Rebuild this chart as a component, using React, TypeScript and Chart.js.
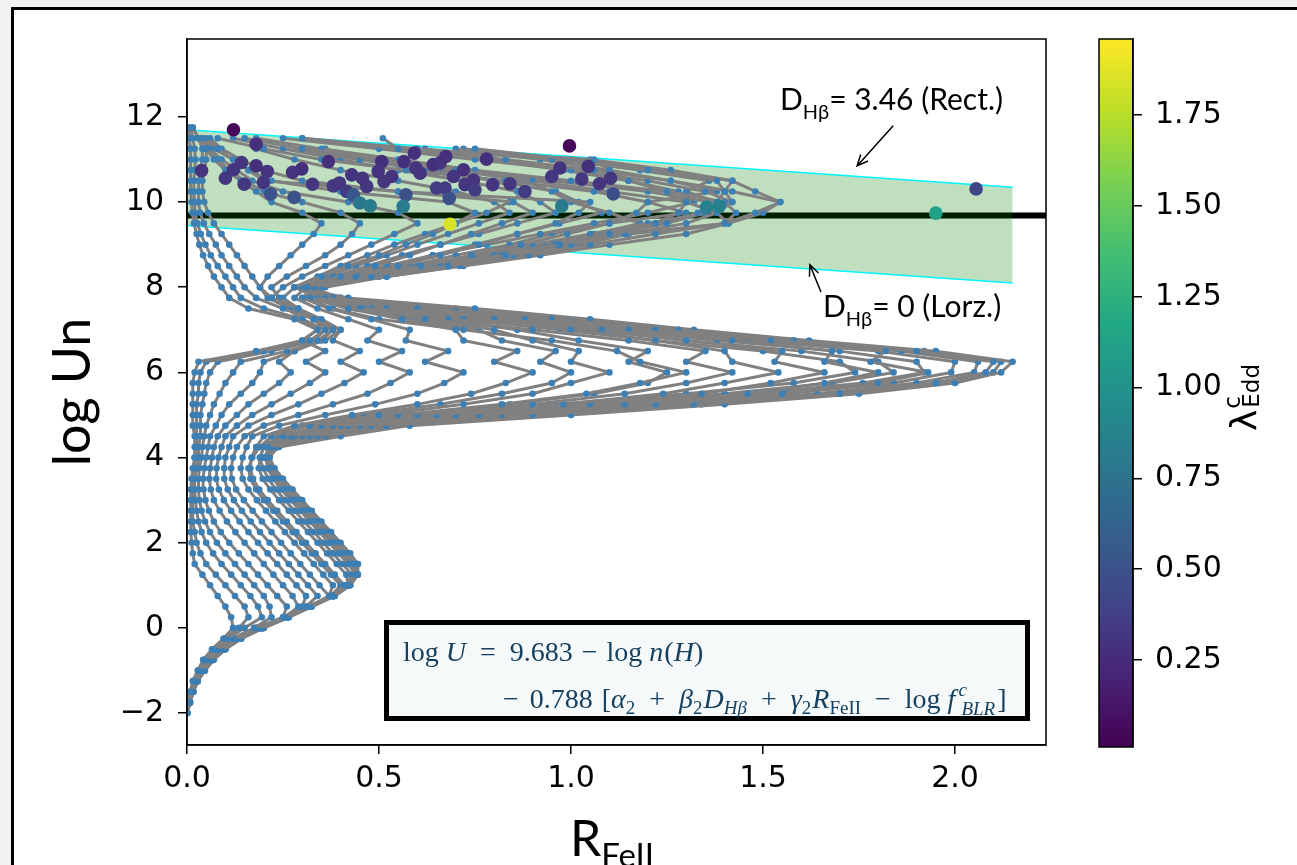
import React, { useEffect, useRef } from 'react';
import { Chart, registerables } from 'chart.js';

Chart.register(...registerables);

// ---------------- data ----------------
// log(U n) levels of the model grid rows
const gridLogUn = [
  -2, -1.75, -1.5, -1.25, -1, -0.75, -0.5, -0.25, 0, 0.25, 0.5, 0.75, 1, 1.25,
  1.5, 1.75, 2, 2.25, 2.5, 2.75, 3, 3.25, 3.5, 3.75, 4, 4.25, 4.5, 4.75, 5,
  5.25, 5.5, 5.75, 6, 6.25, 6.5, 6.75, 7, 7.25, 7.5, 7.75, 8, 8.25, 8.5, 8.75,
  9, 9.25, 9.5, 9.75, 10, 10.25, 10.5, 10.75, 11, 11.25, 11.5, 11.75,
];

// R_FeII of each model track at the grid rows above (tracks stop where they end)
const trackR01 = [0, .004, .008, .015, .028, .042, .065, .095, .12, .115, .10, .08, .06, .04, .02, .015, .012, .01, .01, .01, .01, .01, .012, .015, .02, .02, .02, .015, .015, .015, .015, .015, .02, .03, .18, .30, .34, .28, .16, .11, .09, .07, .055, .042, .032, .025, .018, .014, .012, .01, .01, .01, .01, .008, .006, .004];
const trackR02 = [0, .004, .009, .016, .03, .045, .07, .10, .135, .16, .15, .125, .10, .075, .05, .035, .025, .02, .015, .015, .015, .015, .015, .02, .02, .025, .025, .025, .025, .025, .03, .03, .035, .05, .20, .32, .36, .30, .20, .14, .12, .10, .08, .062, .048, .036, .027, .021, .02, .018, .018, .02, .022, .02, .015, .01];
const trackR03 = [0, .004, .009, .017, .031, .047, .072, .105, .15, .195, .185, .165, .14, .115, .09, .068, .05, .038, .03, .025, .022, .02, .02, .025, .03, .03, .035, .035, .035, .04, .045, .05, .06, .08, .22, .34, .38, .33, .25, .18, .15, .13, .11, .09, .075, .058, .044, .034, .03, .03, .03, .035, .04, .04, .03, .015];
const trackR04 = [0, .005, .01, .018, .032, .048, .075, .12, .175, .22, .215, .20, .175, .15, .125, .10, .078, .06, .047, .038, .032, .03, .03, .032, .038, .04, .045, .05, .06, .07, .085, .10, .12, .14, .26, .36, .40, .35, .29, .22, .19, .17, .15, .13, .11, .09, .07, .055, .045, .04, .04, .045, .05, .05, .035];
const trackR05 = [0, .005, .01, .019, .034, .05, .078, .115, .18, .25, .26, .235, .21, .185, .16, .135, .11, .088, .07, .057, .048, .043, .042, .045, .05, .055, .06, .075, .09, .11, .14, .17, .19, .20, .28, .35, .38, .34, .27, .21, .19, .21, .24, .27, .30, .33, .35, .30, .22, .18, .14, .10, .07, .05, .03, .015];
const trackR06 = [0, .005, .011, .02, .036, .053, .082, .12, .185, .255, .29, .275, .25, .225, .20, .175, .15, .126, .104, .085, .07, .062, .058, .06, .065, .07, .08, .10, .13, .16, .20, .24, .27, .24, .28, .33, .36, .33, .28, .24, .22, .26, .31, .36, .40, .43, .45, .40, .30, .20, .15, .11, .08, .05, .03];
const trackR07 = [0, .005, .012, .021, .037, .055, .085, .125, .19, .25, .30, .31, .285, .26, .235, .21, .185, .16, .137, .115, .096, .083, .076, .077, .082, .09, .10, .13, .17, .22, .27, .32, .36, .31, .36, .30, .34, .30, .26, .22, .25, .30, .36, .42, .48, .54, .60, .55, .42, .25, .17, .13, .09, .06, .04];
const trackR08 = [0, .006, .012, .022, .038, .057, .087, .13, .19, .26, .31, .34, .315, .29, .265, .24, .215, .19, .166, .143, .122, .106, .097, .097, .10, .11, .12, .16, .22, .29, .35, .41, .46, .40, .45, .38, .40, .34, .29, .25, .28, .35, .42, .50, .57, .64, .70, .75, .68, .40, .22, .16, .12, .08, .05];
const trackR09 = [0, .006, .013, .023, .039, .058, .088, .13, .19, .26, .32, .37, .345, .32, .295, .27, .245, .22, .195, .171, .148, .128, .117, .115, .12, .13, .15, .20, .29, .38, .47, .53, .58, .50, .56, .47, .50, .42, .34, .28, .31, .40, .49, .58, .66, .74, .82, .90, .85, .55, .30, .20, .14, .09, .06];
const trackR10 = [0, .006, .013, .023, .04, .06, .09, .135, .195, .26, .32, .37, .38, .355, .33, .305, .28, .255, .23, .206, .182, .16, .145, .14, .145, .155, .17, .24, .36, .49, .60, .67, .72, .62, .68, .57, .58, .48, .37, .30, .33, .44, .55, .66, .76, .86, .96, 1.02, 1.05, .55, .20, .16, .12, .07, .04];
const trackR11 = [0, .006, .013, .024, .041, .061, .09, .135, .195, .26, .32, .38, .41, .385, .36, .335, .31, .285, .26, .235, .21, .188, .172, .165, .168, .18, .20, .28, .43, .60, .74, .83, .90, .80, .86, .72, .70, .56, .42, .32, .35, .48, .61, .74, .87, .99, 1.10, 1.17, 1.20, 1.06, .83, .57, .35, .20, .08];
const trackR12 = [0, .006, .013, .024, .042, .062, .09, .135, .195, .26, .32, .38, .42, .415, .39, .365, .34, .315, .29, .265, .24, .217, .197, .187, .19, .20, .22, .32, .50, .72, .90, 1.00, 1.10, 1.00, 1.02, .90, .80, .62, .45, .33, .36, .52, .68, .83, .97, 1.10, 1.22, 1.28, 1.30, 1.25, 1.15, 1.10, 1.06, .55, .51];
const trackR13 = [0, .006, .013, .024, .042, .063, .09, .135, .195, .26, .32, .38, .42, .44, .42, .395, .37, .345, .32, .295, .27, .245, .225, .21, .205, .21, .25, .35, .55, .82, 1.04, 1.18, 1.30, 1.18, 1.12, .95, .72, .50, .38, .31, .34, .50, .66, .82, .96, 1.10, 1.25, 1.33, 1.38, 1.40, 1.38, 1.20, .95, .60, .30];
const trackR14 = [0, .006, .013, .024, .042, .063, .092, .135, .198, .262, .322, .382, .422, .442, .428, .403, .378, .353, .328, .303, .278, .253, .23, .214, .207, .212, .27, .38, .60, .90, 1.14, 1.30, 1.42, 1.30, 1.35, 1.15, .90, .62, .42, .32, .33, .50, .68, .85, 1.00, 1.14, 1.30, 1.38, 1.42, 1.40, 1.42, 1.26, 1.05];
const trackR15 = [0, .007, .014, .025, .043, .064, .093, .135, .195, .26, .32, .38, .42, .44, .43, .405, .38, .355, .33, .305, .28, .255, .232, .215, .208, .215, .28, .40, .65, .98, 1.24, 1.40, 1.54, 1.42, 1.40, 1.22, 1.00, .68, .45, .33, .32, .52, .71, .89, 1.05, 1.22, 1.40, 1.48, 1.545, 1.42, 1.26, 1.06, .83, .55, .30];
const trackR16 = [0, .007, .014, .025, .043, .065, .095, .135, .19, .255, .315, .375, .415, .436, .435, .41, .385, .36, .335, .31, .285, .26, .236, .218, .21, .22, .30, .42, .70, 1.05, 1.34, 1.52, 1.66, 1.53, 1.55, 1.30, 1.08, .72, .46, .33, .31, .52, .72, .92, 1.10, 1.30, 1.41, 1.38, 1.30, 1.10, .90, .70, .50, .30, .15];
const trackR17 = [0, .007, .015, .026, .044, .066, .097, .137, .195, .26, .32, .38, .42, .44, .44, .415, .39, .365, .34, .315, .29, .265, .24, .22, .212, .225, .32, .45, .76, 1.14, 1.46, 1.66, 1.80, 1.66, 1.68, 1.42, 1.15, .80, .48, .34, .31, .50, .68, .86, 1.02, 1.15, 1.40, 1.43, 1.40, 1.25, 1.00, .75, .55, .35, .18];
const trackR18 = [0, .008, .016, .027, .045, .067, .098, .138, .2, .265, .325, .385, .425, .445, .445, .425, .40, .375, .35, .325, .30, .275, .25, .228, .215, .23, .34, .48, .82, 1.22, 1.55, 1.80, 1.93, 1.78, 1.82, 1.52, 1.22, .88, .52, .36, .32, .48, .64, .80, .96, 1.10, 1.25, 1.35, 1.36, 1.20, .95, .70, .45, .25, .12];
const trackR19 = [0, .008, .016, .028, .046, .068, .10, .14, .195, .26, .32, .38, .42, .44, .44, .42, .395, .37, .345, .32, .295, .27, .245, .225, .215, .235, .36, .52, .90, 1.32, 1.70, 1.95, 2.08, 2.10, 1.90, 1.58, 1.28, .95, .60, .38, .30, .45, .60, .75, .90, 1.05, 1.20, 1.35, 1.42, 1.35, 1.20, 1.00, .75, .50, .25];
const trackR20 = [0, .008, .017, .028, .047, .07, .10, .14, .195, .26, .32, .38, .42, .44, .445, .42, .395, .37, .345, .32, .295, .27, .245, .225, .21, .24, .40, .58, 1.00, 1.40, 1.75, 2.00, 2.12, 2.15, 1.95, 1.62, 1.32, 1.05, .75, .42, .28, .45, .62, .80, .97, 1.14, 1.41, 1.50, 1.545, 1.48, 1.42, 1.22, 1.00, .75];
const trackR21 = [0, .007, .015, .026, .045, .068, .10, .142, .20, .265, .325, .385, .425, .445, .44, .415, .39, .365, .34, .315, .29, .265, .24, .22, .21, .235, .37, .54, .93, 1.34, 1.70, 1.96, 2.10, 2.12, 1.92, 1.58, 1.28, 1.00, .70, .40, .30, .40, .52, .64, .78, .92, 1.06, 1.20, 1.32, 1.28, 1.15, .98, .80, .62];
const trackR22 = [0, .006, .014, .025, .044, .066, .096, .138, .198, .262, .322, .382, .423, .442, .432, .408, .383, .358, .333, .308, .283, .258, .235, .218, .21, .23, .35, .50, .86, 1.28, 1.64, 1.90, 2.05, 2.06, 1.86, 1.52, 1.22, .95, .66, .40, .32, .44, .58, .70, .84, .95, 1.10, 1.30, 1.20, 1.38, 1.26, 1.10, .92, .70];
const trackR23 = [0, .007, .015, .026, .045, .066, .097, .138, .196, .26, .322, .382, .42, .44, .438, .412, .387, .362, .337, .312, .287, .262, .238, .22, .21, .23, .33, .47, .80, 1.20, 1.56, 1.84, 1.99, 2.00, 1.80, 1.46, 1.16, .90, .62, .38, .30, .46, .62, .78, .93, 1.08, 1.22, 1.34, 1.38, 1.30, 1.36, 1.18, .98, .72];
const trackR24 = [0, .006, .013, .024, .043, .065, .095, .136, .194, .258, .318, .378, .418, .438, .436, .41, .385, .36, .335, .31, .285, .26, .236, .218, .21, .225, .31, .44, .74, 1.12, 1.48, 1.76, 1.92, 1.90, 1.70, 1.38, 1.10, .84, .58, .37, .31, .47, .63, .78, .92, 1.06, 1.18, 1.10, 1.00, .95, .88, .70, .50, .32];
const trackR25 = [0, .007, .014, .025, .044, .066, .096, .137, .197, .262, .322, .381, .421, .441, .441, .416, .391, .366, .341, .316, .291, .266, .242, .222, .20, .22, .30, .41, .68, 1.04, 1.40, 1.68, 1.84, 1.80, 1.60, 1.30, 1.04, .78, .55, .36, .32, .42, .53, .64, .75, .86, .97, 1.08, 1.02, .96, .80, .62, .45, .30];
const trackR26 = [0, .006, .014, .025, .044, .065, .095, .137, .196, .26, .32, .38, .42, .44, .437, .413, .388, .363, .338, .313, .288, .263, .24, .22, .20, .22, .29, .39, .63, .96, 1.30, 1.58, 1.74, 1.70, 1.50, 1.22, .97, .72, .52, .35, .30, .38, .47, .56, .66, .76, .86, .96, .92, .86, .72, .55, .40, .25];
const trackR27 = [0, .006, .013, .024, .041, .061, .09, .134, .193, .258, .318, .375, .40, .375, .35, .325, .30, .275, .25, .225, .20, .18, .165, .16, .17, .19, .22, .30, .46, .66, .82, .95, 1.00, .92, .96, .82, .76, .58, .44, .33, .30, .36, .44, .52, .60, .68, .76, .84, .80, .70, .55, .40, .28, .18];
const trackR28 = [0, .006, .013, .024, .042, .062, .091, .136, .196, .261, .321, .38, .415, .43, .405, .38, .355, .33, .305, .28, .255, .232, .212, .198, .19, .20, .24, .36, .58, .84, 1.06, 1.20, 1.25, 1.15, 1.20, 1.02, .86, .66, .47, .34, .28, .34, .40, .47, .54, .62, .70, .78, .84, .88, .80, .66, .50, .36];

const gridTracks = [
  trackR01, trackR02, trackR03, trackR04, trackR05, trackR06, trackR07,
  trackR08, trackR09, trackR10, trackR11, trackR12, trackR13, trackR14,
  trackR15, trackR16, trackR17, trackR18, trackR19, trackR20, trackR21,
  trackR22, trackR23, trackR24, trackR25, trackR26, trackR27, trackR28,
];

// observed sources
const obsRFe = [0.121, 0.18, 0.038, 0.10, 0.121, 0.142, 0.18, 0.209, 0.149, 0.199, 0.218, 0.279, 0.275, 0.299, 0.327, 0.368, 0.381, 0.397, 0.429, 0.416, 0.433, 0.457, 0.468, 0.45, 0.477, 0.507, 0.498, 0.513, 0.533, 0.565, 0.570, 0.563, 0.592, 0.596, 0.607, 0.641, 0.650, 0.672, 0.659, 0.674, 0.683, 0.685, 0.694, 0.720, 0.724, 0.746, 0.750, 0.780, 0.796, 0.841, 0.880, 0.976, 0.996, 0.950, 0.971, 1.028, 1.045, 1.074, 1.103, 1.110, 1.353, 1.386, 1.95, 2.055];
const obsLogUn = [11.70, 11.36, 10.74, 10.56, 10.76, 10.93, 10.85, 10.72, 10.42, 10.46, 10.19, 10.11, 10.70, 10.78, 10.42, 10.95, 10.38, 10.45, 10.64, 10.25, 10.17, 10.56, 10.37, 9.98, 9.91, 10.95, 10.72, 10.48, 10.60, 10.95, 10.17, 9.90, 11.15, 10.80, 10.68, 10.88, 10.33, 10.33, 10.92, 11.07, 10.09, 9.48, 10.60, 10.76, 10.41, 10.52, 10.29, 11.01, 10.41, 10.43, 10.25, 9.91, 11.32, 10.60, 10.80, 10.54, 10.84, 10.43, 10.56, 10.19, 9.88, 9.90, 9.74, 10.31];
const obsLambda = [0.05, 0.28, 0.3, 0.32, 0.3, 0.3, 0.28, 0.3, 0.32, 0.3, 0.5, 0.5, 0.3, 0.28, 0.32, 0.28, 0.32, 0.32, 0.3, 0.36, 0.52, 0.3, 0.32, 0.78, 0.82, 0.28, 0.3, 0.32, 0.3, 0.28, 0.48, 0.82, 0.28, 0.3, 0.3, 0.28, 0.36, 0.36, 0.3, 0.28, 0.48, 1.85, 0.3, 0.28, 0.32, 0.3, 0.36, 0.28, 0.32, 0.32, 0.36, 0.82, 0.05, 0.32, 0.3, 0.32, 0.28, 0.3, 0.32, 0.48, 0.86, 0.86, 1.1, 0.42];

// reference lines
const refLogU = 9.683;
const bandR = [0, 2.15];
const bandUpperLogU = [11.7, 10.35]; // D_Hbeta = 3.46 (Rect.)
const bandLowerLogU = [9.45, 8.1]; // D_Hbeta = 0 (Lorz.)

// axes
const xRange = [0, 2.237];
const yRange = [-2.75, 13.83];
const xTickValues = [0, 0.5, 1, 1.5, 2];
const yTickValues = [-2, 0, 2, 4, 6, 8, 10, 12];
const lambdaRange = [0.01, 1.96];
const cbTickValues = [0.25, 0.5, 0.75, 1, 1.25, 1.5, 1.75];

// ---------------- helpers ----------------
const VIRIDIS = ['#440154', '#482475', '#414487', '#355f8d', '#2a788e', '#21918c', '#22a884', '#44bf70', '#7ad151', '#bddf26', '#fde725'];
function hexToRgb(h: string) {
  return [parseInt(h.slice(1, 3), 16), parseInt(h.slice(3, 5), 16), parseInt(h.slice(5, 7), 16)];
}
function viridis(t: number) {
  const c = Math.max(0, Math.min(1, t)) * 10;
  const i = Math.min(9, Math.floor(c));
  const f = c - i;
  const a = hexToRgb(VIRIDIS[i]);
  const b = hexToRgb(VIRIDIS[i + 1]);
  const m = a.map((v, k) => Math.round(v + (b[k] - v) * f));
  return `rgb(${m[0]},${m[1]},${m[2]})`;
}
function lambdaColor(v: number) {
  return viridis((v - lambdaRange[0]) / (lambdaRange[1] - lambdaRange[0]));
}

type Run = { t: string; font: string; dx?: number; dy?: number; noAdvance?: boolean };
function drawRuns(ctx: CanvasRenderingContext2D, x: number, y: number, runs: Run[]) {
  let cx = x;
  for (const r of runs) {
    cx += r.dx || 0;
    ctx.font = r.font;
    ctx.fillText(r.t, cx, y + (r.dy || 0));
    if (!r.noAdvance) cx += ctx.measureText(r.t).width;
  }
  return cx;
}
function arrow(ctx: CanvasRenderingContext2D, x1: number, y1: number, x2: number, y2: number) {
  const ang = Math.atan2(y2 - y1, x2 - x1);
  const L = 12;
  ctx.beginPath();
  ctx.moveTo(x1, y1);
  ctx.lineTo(x2, y2);
  ctx.moveTo(x2 - L * Math.cos(ang - 0.42), y2 - L * Math.sin(ang - 0.42));
  ctx.lineTo(x2, y2);
  ctx.lineTo(x2 - L * Math.cos(ang + 0.42), y2 - L * Math.sin(ang + 0.42));
  ctx.stroke();
}

const TICK_FONT = { family: '"DejaVu Sans"', size: 30 };

const decorPlugin = {
  id: 'decor',
  afterDraw(chart: any) {
    const ctx: CanvasRenderingContext2D = chart.ctx;
    const { left, right, top, bottom } = chart.chartArea;
    const xs = chart.scales.x;
    const ys = chart.scales.y;
    const px = (v: number) => xs.getPixelForValue(v);
    const py = (v: number) => ys.getPixelForValue(v);
    ctx.save();
    // axes frame
    ctx.strokeStyle = '#000';
    ctx.lineWidth = 1.5;
    ctx.strokeRect(left, top, right - left, bottom - top);

    // annotations
    ctx.fillStyle = '#000';
    ctx.textBaseline = 'alphabetic';
    ctx.textAlign = 'left';
    const big = '30px Lato';
    const sub = '20px Lato';
    drawRuns(ctx, px(1.544), py(12.17), [
      { t: 'D', font: big },
      { t: 'Hβ', font: sub, dy: 9 },
      { t: '= 3.46 (Rect.)', font: big },
    ]);
    drawRuns(ctx, px(1.656), py(7.31), [
      { t: 'D', font: big },
      { t: 'Hβ', font: sub, dy: 9 },
      { t: '= 0 (Lorz.)', font: big },
    ]);
    ctx.lineWidth = 1.5;
    arrow(ctx, px(1.839), py(11.79), px(1.745), py(10.85));
    arrow(ctx, px(1.651), py(7.89), px(1.622), py(8.53));

    // equation box
    ctx.fillStyle = '#f5f9fa';
    ctx.fillRect(386, 622, 641, 96);
    ctx.lineWidth = 5;
    ctx.strokeStyle = '#000';
    ctx.strokeRect(386.5, 622.5, 641, 96);
    ctx.fillStyle = '#17405e';
    const R = '28px "Liberation Serif"';
    const I = 'italic 28px "Liberation Serif"';
    const Rs = '19px "Liberation Serif"';
    const Is = 'italic 19px "Liberation Serif"';
    drawRuns(ctx, 403, 661, [
      { t: 'log', font: R },
      { t: 'U', font: I, dx: 7 },
      { t: '=', font: R, dx: 14 },
      { t: '9.683', font: R, dx: 14 },
      { t: '−', font: R, dx: 9 },
      { t: 'log', font: R, dx: 9 },
      { t: 'n', font: I, dx: 7 },
      { t: '(', font: R, dx: 1 },
      { t: 'H', font: I },
      { t: ')', font: R },
    ]);
    drawRuns(ctx, 503, 708, [
      { t: '−', font: R },
      { t: '0.788', font: R, dx: 11 },
      { t: '[', font: R, dx: 9 },
      { t: 'α', font: I },
      { t: '2', font: Rs, dy: 6 },
      { t: '+', font: R, dx: 14 },
      { t: 'β', font: I, dx: 14 },
      { t: '2', font: Rs, dy: 6 },
      { t: 'D', font: I, dx: 1 },
      { t: 'Hβ', font: Is, dy: 6 },
      { t: '+', font: R, dx: 14 },
      { t: 'γ', font: I, dx: 14 },
      { t: '2', font: Rs, dy: 6 },
      { t: 'R', font: I, dx: 1 },
      { t: 'FeII', font: Rs, dy: 6 },
      { t: '−', font: R, dx: 14 },
      { t: 'log', font: R, dx: 14 },
      { t: 'f', font: I, dx: 7 },
      { t: 'c', font: Is, dy: -12, dx: 3, noAdvance: true },
      { t: 'BLR', font: Is, dy: 7, dx: 3 },
      { t: ']', font: R, dx: 2 },
    ]);

    // axis titles
    ctx.fillStyle = '#000';
    drawRuns(ctx, 570, 856, [
      { t: 'R', font: '50px Lato' },
      { t: 'FeII', font: '33px Lato', dy: 11 },
    ]);
    ctx.translate(90, (top + bottom) / 2);
    ctx.rotate(-Math.PI / 2);
    ctx.textAlign = 'center';
    ctx.font = '52px Lato';
    ctx.fillText('log Un', 0, 0);
    ctx.restore();
  },
};

const colorbarPlugin = {
  id: 'cbar',
  beforeDraw(chart: any) {
    const ctx: CanvasRenderingContext2D = chart.ctx;
    const { left, right, top, bottom } = chart.chartArea;
    const g = ctx.createLinearGradient(0, bottom, 0, top);
    VIRIDIS.forEach((c, i) => g.addColorStop(i / (VIRIDIS.length - 1), c));
    ctx.save();
    ctx.fillStyle = g;
    ctx.fillRect(left, top, right - left, bottom - top);
    ctx.restore();
  },
  afterDraw(chart: any) {
    const ctx: CanvasRenderingContext2D = chart.ctx;
    const { left, right, top, bottom } = chart.chartArea;
    ctx.save();
    ctx.strokeStyle = '#000';
    ctx.lineWidth = 1.5;
    ctx.strokeRect(left, top, right - left, bottom - top);
    ctx.fillStyle = '#000';
    ctx.translate(196, 393);
    ctx.rotate(-Math.PI / 2);
    ctx.textBaseline = 'alphabetic';
    drawRuns(ctx, -38, 0, [
      { t: 'λ', font: '36px "DejaVu Sans"' },
      { t: 'c', font: '23px "DejaVu Sans"', dy: -16, dx: 1, noAdvance: true },
      { t: 'Edd', font: '23px "DejaVu Sans"', dy: 3, dx: 1 },
    ]);
    ctx.restore();
  },
};

export default function App() {
  const mainRef = useRef<HTMLCanvasElement>(null);
  const cbRef = useRef<HTMLCanvasElement>(null);

  useEffect(() => {
    document.body.style.margin = '0';
    document.body.style.background = '#f2f2f2';

    const trackSets = gridTracks.map((track) => ({
      type: 'line' as const,
      data: track.map((r, j) => ({ x: r, y: gridLogUn[j] })),
      borderColor: '#808080',
      borderWidth: 3,
      pointRadius: 3.3,
      pointBackgroundColor: '#3b7fb5',
      pointBorderWidth: 0,
      tension: 0,
      fill: false,
      borderJoinStyle: 'round' as const,
      order: 1,
    }));

    const main = new Chart(mainRef.current!, {
      type: 'line',
      data: {
        datasets: [
          {
            data: [{ x: xRange[0], y: refLogU }, { x: xRange[1], y: refLogU }],
            borderColor: '#000',
            borderWidth: 6,
            pointRadius: 0,
            fill: false,
            order: 3,
          },
          {
            data: bandR.map((r, i) => ({ x: r, y: bandUpperLogU[i] })),
            borderColor: '#00f5ff',
            borderWidth: 1.6,
            pointRadius: 0,
            fill: false,
            order: 2,
          },
          {
            data: bandR.map((r, i) => ({ x: r, y: bandLowerLogU[i] })),
            borderColor: '#00f5ff',
            borderWidth: 1.6,
            pointRadius: 0,
            fill: '-1',
            backgroundColor: 'rgba(0,128,0,0.25)',
            order: 2,
          },
          ...trackSets,
          {
            data: obsRFe.map((r, i) => ({ x: r, y: obsLogUn[i] })),
            showLine: false,
            pointRadius: 6.8,
            pointBackgroundColor: obsLambda.map(lambdaColor),
            pointBorderWidth: 0,
            order: 0,
          },
        ] as any,
      },
      options: {
        responsive: false,
        animation: false,
        devicePixelRatio: 1,
        events: [],
        layout: { padding: { top: 39, right: 251, bottom: 0, left: 0 } },
        plugins: { legend: { display: false }, tooltip: { enabled: false } },
        scales: {
          x: {
            type: 'linear',
            min: xRange[0],
            max: xRange[1],
            afterBuildTicks: (s: any) => { s.ticks = xTickValues.map((v) => ({ value: v })); },
            afterFit: (s: any) => { s.height = 120; },
            ticks: { font: TICK_FONT, color: '#000', padding: 7, callback: (v: any) => Number(v).toFixed(1) },
            grid: { drawOnChartArea: false, tickLength: 9, color: '#000', lineWidth: 1.5 },
            border: { display: true, color: '#000', width: 1.5 },
          },
          y: {
            type: 'linear',
            min: yRange[0],
            max: yRange[1],
            afterBuildTicks: (s: any) => { s.ticks = yTickValues.map((v) => ({ value: v })); },
            afterFit: (s: any) => { s.width = 187; },
            ticks: { font: TICK_FONT, color: '#000', padding: 14, callback: (v: any) => (Number(v) < 0 ? '−' + Math.abs(Number(v)) : String(v)) },
            grid: { drawOnChartArea: false, tickLength: 9, color: '#000', lineWidth: 1.5 },
            border: { display: true, color: '#000', width: 1.5 },
          },
        },
      } as any,
      plugins: [decorPlugin],
    });

    const cb = new Chart(cbRef.current!, {
      type: 'scatter',
      data: { datasets: [] },
      options: {
        responsive: false,
        animation: false,
        devicePixelRatio: 1,
        events: [],
        layout: { padding: { left: 39, top: 39, bottom: 118, right: 0 } },
        plugins: { legend: { display: false }, tooltip: { enabled: false } },
        scales: {
          x: { display: false, min: 0, max: 1 },
          y: {
            position: 'right',
            min: lambdaRange[0],
            max: lambdaRange[1],
            afterBuildTicks: (s: any) => { s.ticks = cbTickValues.map((v) => ({ value: v })); },
            afterFit: (s: any) => { s.width = 164; },
            ticks: { font: TICK_FONT, color: '#000', padding: 13, callback: (v: any) => Number(v).toFixed(2) },
            grid: { drawOnChartArea: false, tickLength: 9, color: '#000', lineWidth: 1.5 },
            border: { display: true, color: '#000', width: 1.5 },
          },
        },
      } as any,
      plugins: [colorbarPlugin],
    });

    return () => {
      main.destroy();
      cb.destroy();
    };
  }, []);

  return (
    <div style={{ position: 'relative', width: 1297, height: 865, overflow: 'hidden', background: '#f2f2f2' }}>
      <div
        style={{
          position: 'absolute', left: 11, top: 7, width: 1400, height: 1000,
          background: '#fff', border: '3px solid #000', boxSizing: 'border-box',
        }}
      />
      <canvas ref={mainRef} width={1297} height={865} style={{ position: 'absolute', left: 0, top: 0, width: 1297, height: 865 }} />
      <canvas ref={cbRef} width={237} height={865} style={{ position: 'absolute', left: 1060, top: 0, width: 237, height: 865 }} />
    </div>
  );
}
